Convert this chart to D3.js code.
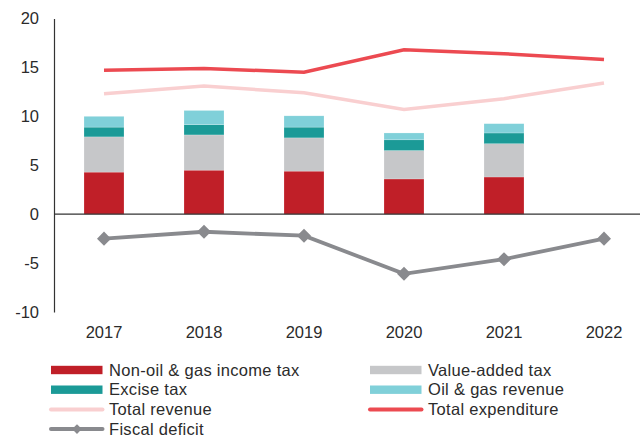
<!DOCTYPE html>
<html lang="en">
<head>
<meta charset="utf-8">
<title>Fiscal revenue and expenditure</title>
<script src="https://cdn.jsdelivr.net/npm/d3@7"></script>
<style>
  body { margin: 0; background: #fff; }
  text { font-family: "Liberation Sans", Arial, sans-serif; fill: #2b2b2b; }
</style>
</head>
<body>
<script>
// data (% of GDP)
var years = ["2017", "2018", "2019", "2020", "2021", "2022"];
var incomeTax = [4.3, 4.5, 4.4, 3.6, 3.8, null];
var vat = [3.6, 3.6, 3.4, 2.9, 3.4, null];
var excise = [1.0, 1.05, 1.1, 1.1, 1.1, null];
var oilGas = [1.1, 1.45, 1.15, 0.7, 0.95, null];
var totalRevenue = [12.3, 13.1, 12.4, 10.7, 11.8, 13.4];
var totalExpenditure = [14.7, 14.9, 14.5, 16.8, 16.4, 15.8];
var fiscalDeficit = [-2.5, -1.8, -2.2, -6.1, -4.6, -2.5];
var yTicks = [20, 15, 10, 5, 0, -5, -10];

var width = 640, height = 437;

var svg = d3.select("body").append("svg")
  .attr("width", width)
  .attr("height", height);

var x = d3.scaleBand().domain(years).range([54, 654]).paddingInner(0.6).paddingOuter(0.3);
var y = d3.scaleLinear().domain([-10, 20]).range([312, 18.5]);

var stackKeys = ["income", "vat", "excise", "oil"];
var stackColors = {income: "#c01f28", vat: "#c6c7c9", excise: "#1b9a97", oil: "#80d0d9"};
var rows = years.map(function (yr, i) {
  return {year: yr, income: incomeTax[i] || 0, vat: vat[i] || 0, excise: excise[i] || 0, oil: oilGas[i] || 0};
}).filter(function (d, i) { return incomeTax[i] != null; });

var series = d3.stack().keys(stackKeys)(rows);

svg.append("g").selectAll("g")
  .data(series)
  .enter().append("g")
  .attr("fill", function (s) { return stackColors[s.key]; })
  .selectAll("rect")
  .data(function (s) { return s; })
  .enter().append("rect")
  .attr("x", function (d) { return x(d.data.year); })
  .attr("width", x.bandwidth())
  .attr("y", function (d) { return y(d[1]); })
  .attr("height", function (d) { return y(d[0]) - y(d[1]); })
  .attr("stroke", "#fff")
  .attr("stroke-opacity", 0.4)
  .attr("stroke-width", 0.5);

// axes
var yAxis = svg.append("g").attr("transform", "translate(54,0)")
  .call(d3.axisLeft(y).tickValues(yTicks).tickSize(0).tickPadding(15).tickFormat(function (d) { return String(d); }));
yAxis.select(".domain").attr("stroke", "#333").attr("stroke-width", 1.2);
yAxis.selectAll("text").attr("font-size", 16.5).attr("font-family", "Liberation Sans, Arial, sans-serif").attr("fill", "#2b2b2b");

svg.append("line")
  .attr("x1", 54).attr("x2", 640)
  .attr("y1", y(0)).attr("y2", y(0))
  .attr("stroke", "#333").attr("stroke-width", 1.2);

var xAxis = svg.append("g").attr("transform", "translate(0,320)")
  .call(d3.axisBottom(x).tickSize(0).tickPadding(6));
xAxis.select(".domain").remove();
xAxis.selectAll("text").attr("font-size", 16.5).attr("font-family", "Liberation Sans, Arial, sans-serif").attr("fill", "#2b2b2b");

// lines
var cx = function (i) { return x(years[i]) + x.bandwidth() / 2; };
var line = d3.line()
  .x(function (d, i) { return cx(i); })
  .y(function (d) { return y(d); });

svg.append("path").datum(totalRevenue)
  .attr("d", line).attr("fill", "none")
  .attr("stroke", "#f9cfd0").attr("stroke-width", 3.5);

svg.append("path").datum(totalExpenditure)
  .attr("d", line).attr("fill", "none")
  .attr("stroke", "#ec4a51").attr("stroke-width", 3.5);

svg.append("path").datum(fiscalDeficit)
  .attr("d", line).attr("fill", "none")
  .attr("stroke", "#898a8e").attr("stroke-width", 3.8);

var diamond = d3.symbol().type(d3.symbolDiamond2).size(125);
svg.append("g").selectAll("path")
  .data(fiscalDeficit)
  .enter().append("path")
  .attr("d", diamond)
  .attr("transform", function (d, i) { return "translate(" + cx(i) + "," + y(d) + ")"; })
  .attr("fill", "#898a8e");

// legend
var legendItems = [
  {label: "Non-oil & gas income tax", color: "#c01f28", kind: "bar", col: 0, row: 0},
  {label: "Value-added tax", color: "#c6c7c9", kind: "bar", col: 1, row: 0},
  {label: "Excise tax", color: "#1b9a97", kind: "bar", col: 0, row: 1},
  {label: "Oil & gas revenue", color: "#80d0d9", kind: "bar", col: 1, row: 1},
  {label: "Total revenue", color: "#f9cfd0", kind: "line", col: 0, row: 2},
  {label: "Total expenditure", color: "#ec4a51", kind: "line", col: 1, row: 2},
  {label: "Fiscal deficit", color: "#898a8e", kind: "marker", col: 0, row: 3}
];
var colX = [51, 370], rowY0 = 370, rowH = 19.7;

var leg = svg.append("g").selectAll("g")
  .data(legendItems)
  .enter().append("g")
  .attr("transform", function (d) { return "translate(" + colX[d.col] + "," + (rowY0 + d.row * rowH) + ")"; });

leg.filter(function (d) { return d.kind === "bar"; })
  .append("rect")
  .attr("x", 0).attr("y", -4.2).attr("width", 51.5).attr("height", 8.4)
  .attr("fill", function (d) { return d.color; });

leg.filter(function (d) { return d.kind !== "bar"; })
  .append("line")
  .attr("x1", 0).attr("x2", 51.5).attr("y1", 0).attr("y2", 0)
  .attr("stroke", function (d) { return d.color; })
  .attr("stroke-width", 4)
  .attr("stroke-linecap", "round");

leg.filter(function (d) { return d.kind === "marker"; })
  .append("path")
  .attr("d", d3.symbol().type(d3.symbolDiamond2).size(60))
  .attr("transform", "translate(26,0)")
  .attr("fill", function (d) { return d.color; });

leg.append("text")
  .attr("x", 58).attr("y", 0).attr("dy", "0.35em")
  .attr("font-size", 16.5)
  .attr("letter-spacing", 0.3)
  .text(function (d) { return d.label; });
</script>
</body>
</html>
